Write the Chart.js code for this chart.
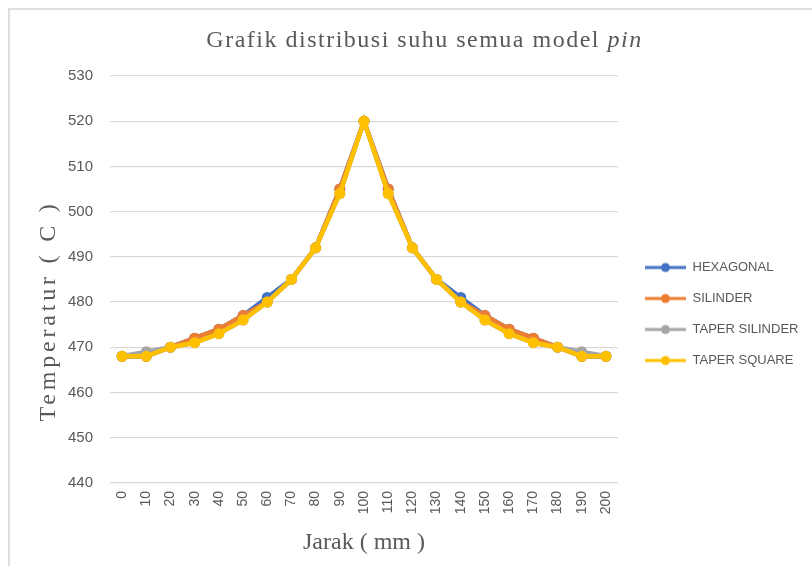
<!DOCTYPE html>
<html>
<head>
<meta charset="utf-8">
<script src="https://cdn.jsdelivr.net/npm/chart.js@4.4.1/dist/chart.umd.min.js"></script>
<style>
  body { margin: 0; background: #fff; }
  #wrap { position: relative; width: 812px; height: 566px; }
  #frame { position: absolute; left: 8px; top: 8px; right: 0; bottom: 0;
           border-top: 2px solid #dedede; border-left: 2px solid #dedede; pointer-events: none; }
</style>
</head>
<body>
<div id="wrap">
  <canvas id="myChart" width="812" height="566"></canvas>
  <div id="frame"></div>
</div>
<script>
// jarak (mm) dan suhu tiap model pin
const jarak = ['0', '10', '20', '30', '40', '50', '60', '70', '80', '90', '100',
    '110', '120', '130', '140', '150', '160', '170', '180', '190', '200'];
const hexagonal = [468, 468, 470, 472, 474, 477, 481, 485, 492, 505, 520, 505, 492, 485, 481, 477, 474, 472, 470, 468, 468];
const silinder = [468, 468, 470, 472, 474, 477, 480, 485, 492, 505, 520, 505, 492, 485, 480, 477, 474, 472, 470, 468, 468];
const taperSilinder = [468, 469, 470, 471, 473, 476, 480, 485, 492, 504, 520, 504, 492, 485, 480, 476, 473, 471, 470, 469, 468];
const taperSquare = [468, 468, 470, 471, 473, 476, 480, 485, 492, 504, 520, 504, 492, 485, 480, 476, 473, 471, 470, 468, 468];
const yTicks = [440, 450, 460, 470, 480, 490, 500, 510, 520, 530];

const textColor = '#595959';

// small "line with dot" icon for the legend
function legendIcon(color) {
    const c = document.createElement('canvas');
    c.width = 50;
    c.height = 14;
    const g = c.getContext('2d');
    g.strokeStyle = color;
    g.lineWidth = 3;
    g.beginPath();
    g.moveTo(9, 7);
    g.lineTo(50, 7);
    g.stroke();
    g.fillStyle = color;
    g.beginPath();
    g.arc(29.5, 7, 4.5, 0, Math.PI * 2);
    g.fill();
    return c;
}

// title with italic "pin" and the stretched y axis title
const titlesPlugin = {
    id: 'titles',
    afterDraw(chart) {
        const ctx = chart.ctx;
        ctx.save();
        ctx.fillStyle = textColor;
        ctx.textBaseline = 'middle';

        ctx.letterSpacing = '1.5px';
        const part1 = 'Grafik distribusi suhu semua model ';
        const part2 = 'pin';
        ctx.font = '24px "Liberation Serif"';
        const w1 = ctx.measureText(part1).width;
        ctx.font = 'italic 24px "Liberation Serif"';
        const w2 = ctx.measureText(part2).width;
        const startX = 424.5 - (w1 + w2) / 2;
        ctx.textAlign = 'left';
        ctx.font = '24px "Liberation Serif"';
        ctx.fillText(part1, startX, 41);
        ctx.font = 'italic 24px "Liberation Serif"';
        ctx.fillText(part2, startX + w1, 41);

        ctx.letterSpacing = '3.8px';
        ctx.font = '24px "Liberation Serif"';
        ctx.translate(49, 311);
        ctx.rotate(-Math.PI / 2);
        ctx.textAlign = 'center';
        ctx.fillText('Temperatur ( C )', 0, 0);
        ctx.restore();
    }
};

const datasets = [
    { label: 'HEXAGONAL', data: hexagonal, color: '#4472C4', order: 4 },
    { label: 'SILINDER', data: silinder, color: '#ED7D31', order: 3 },
    { label: 'TAPER SILINDER', data: taperSilinder, color: '#A5A5A5', order: 2 },
    { label: 'TAPER SQUARE', data: taperSquare, color: '#FFC000', order: 1 }
].map(d => ({
    label: d.label,
    data: d.data,
    order: d.order,
    borderColor: d.color,
    backgroundColor: d.color,
    borderWidth: 4.5,
    pointRadius: 5.5,
    pointBorderWidth: 0,
    pointBackgroundColor: d.color,
    tension: 0
}));

const ctx = document.getElementById('myChart');

const chart = new Chart(ctx, {
    type: 'line',
    data: {
        labels: jarak,
        datasets: datasets
    },
    options: {
        responsive: false,
        animation: false,
        layout: {
            padding: { top: 76, left: 51, right: 5, bottom: 14 }
        },
        plugins: {
            title: { display: false },
            tooltip: { enabled: false },
            legend: {
                position: 'right',
                labels: {
                    usePointStyle: true,
                    pointStyleWidth: 50,
                    padding: 18,
                    color: textColor,
                    font: { family: '"Liberation Sans", Arial, sans-serif', size: 13 },
                    sort: (a, b) => a.datasetIndex - b.datasetIndex,
                    generateLabels(chart) {
                        const items = Chart.defaults.plugins.legend.labels.generateLabels(chart);
                        items.forEach(item => {
                            item.pointStyle = legendIcon(chart.data.datasets[item.datasetIndex].borderColor);
                        });
                        return items;
                    }
                }
            }
        },
        scales: {
            x: {
                offset: true,
                grid: { display: false, drawTicks: false },
                border: { display: false },
                ticks: {
                    autoSkip: false,
                    minRotation: 90,
                    maxRotation: 90,
                    padding: 8,
                    color: textColor,
                    font: { family: '"Liberation Sans", Arial, sans-serif', size: 14 }
                },
                title: {
                    display: true,
                    text: 'Jarak ( mm )',
                    color: textColor,
                    font: { family: '"Liberation Serif", serif', size: 24, lineHeight: 1.2 },
                    padding: { top: 6, bottom: -5 }
                }
            },
            y: {
                min: yTicks[0],
                max: yTicks[yTicks.length - 1],
                afterBuildTicks(scale) {
                    scale.ticks = yTicks.map(v => ({ value: v }));
                },
                grid: { color: '#d9d9d9', lineWidth: 1.3, drawTicks: false },
                border: { display: false },
                ticks: {
                    padding: 17,
                    color: textColor,
                    font: { family: '"Liberation Sans", Arial, sans-serif', size: 15 }
                }
            }
        }
    },
    plugins: [titlesPlugin]
});
</script>
</body>
</html>
